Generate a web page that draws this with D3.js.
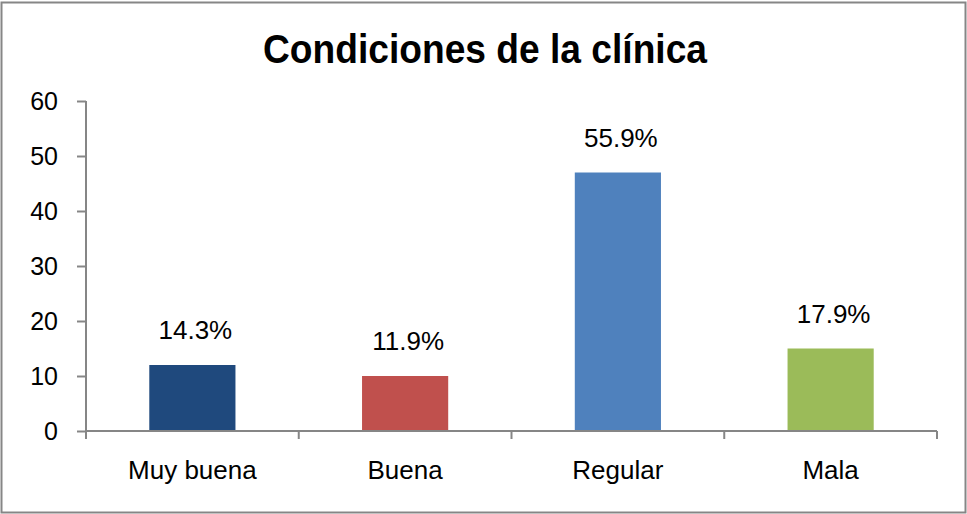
<!DOCTYPE html>
<html>
<head>
<meta charset="utf-8">
<script src="https://cdn.jsdelivr.net/npm/d3@7"></script>
<style>
  html, body { margin: 0; padding: 0; background: #fff; }
  svg { display: block; }
  text { font-family: "Liberation Sans", Arial, sans-serif; fill: #000; }
</style>
</head>
<body>
<svg id="chart" width="967" height="514"></svg>
<script>
const title = "Condiciones de la clínica";
const categories = ["Muy buena", "Buena", "Regular", "Mala"];
const values = [12, 10, 47, 15];
const labels = ["14.3%", "11.9%", "55.9%", "17.9%"];
const colors = ["#1F497D", "#C0504D", "#4F81BD", "#9BBB59"];
const yTicks = [0, 10, 20, 30, 40, 50, 60];

const svg = d3.select("#chart");
const W = 967, H = 514;
const margin = { left: 86, right: 30, top: 101, bottom: 83 };

svg.append("rect")
  .attr("x", 1.5).attr("y", 2.5)
  .attr("width", W - 3).attr("height", H - 4)
  .attr("fill", "#fff").attr("stroke", "#868686").attr("stroke-width", 2);

svg.append("text")
  .attr("x", 485).attr("y", 63)
  .attr("text-anchor", "middle")
  .attr("textLength", 444).attr("lengthAdjust", "spacingAndGlyphs")
  .style("font-size", "41px").style("font-weight", "bold")
  .text(title);

const x = d3.scaleBand().domain(categories).range([margin.left, W - margin.right]).padding(0);
const y = d3.scaleLinear().domain([0, 60]).range([H - margin.bottom, margin.top]);

// Y axis
const yAxis = svg.append("g").attr("transform", `translate(${margin.left},0)`)
  .call(d3.axisLeft(y).tickValues(yTicks).tickSize(9).tickPadding(19).tickSizeOuter(0));
yAxis.select(".domain").attr("stroke", "#868686").attr("stroke-width", 2)
  .attr("d", `M0,${y(60)}V${y(0) + 8}`);
yAxis.selectAll(".tick line").attr("stroke", "#868686").attr("stroke-width", 2);
yAxis.selectAll(".tick text").style("font-size", "25px").attr("fill", "#000")
  .style("font-family", '"Liberation Sans", Arial, sans-serif');

// bars
const barW = x.bandwidth() * 0.405;
svg.append("g").selectAll("rect").data(categories).join("rect")
  .attr("x", (d) => x(d) + (x.bandwidth() - barW) / 2)
  .attr("y", (d, i) => y(values[i]))
  .attr("width", barW)
  .attr("height", (d, i) => y(0) - y(values[i]))
  .attr("fill", (d, i) => colors[i]);

// X axis
const xg = svg.append("g").attr("transform", `translate(0,${y(0)})`);
xg.append("line").attr("x1", x.range()[0]).attr("x2", x.range()[1])
  .attr("stroke", "#868686").attr("stroke-width", 2);
const bounds = categories.map(c => x(c)).concat([x.range()[1]]);
xg.selectAll(".xt").data(bounds).join("line")
  .attr("x1", d => d).attr("x2", d => d).attr("y1", 0).attr("y2", 8)
  .attr("stroke", "#868686").attr("stroke-width", 2);
xg.selectAll(".xl").data(categories).join("text")
  .attr("x", d => x(d) + x.bandwidth() / 2)
  .attr("y", 48)
  .attr("text-anchor", "middle")
  .style("font-size", "26px")
  .text(d => d);

// value labels
svg.append("g").selectAll("text").data(categories).join("text")
  .attr("x", (d) => x(d) + x.bandwidth() / 2 + 3)
  .attr("y", (d, i) => y(values[i]) - 26)
  .attr("text-anchor", "middle")
  .style("font-size", "26px")
  .text((d, i) => labels[i]);
</script>
</body>
</html>
